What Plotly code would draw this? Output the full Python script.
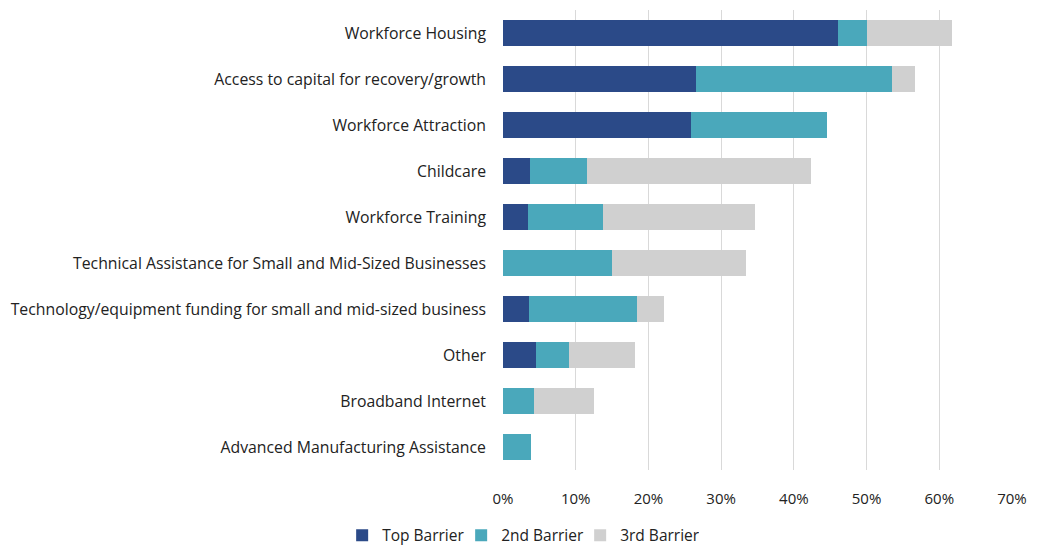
import plotly.graph_objects as go

categories = [
    "Workforce Housing",
    "Access to capital for recovery/growth",
    "Workforce Attraction",
    "Childcare",
    "Workforce Training",
    "Technical Assistance for Small and Mid-Sized Businesses",
    "Technology/equipment funding for small and mid-sized business",
    "Other",
    "Broadband Internet",
    "Advanced Manufacturing Assistance",
]
top_barrier = [0.461, 0.266, 0.259, 0.037, 0.034, 0.0, 0.036, 0.045, 0.0, 0.0]
second_barrier = [0.040, 0.269, 0.186, 0.078, 0.104, 0.150, 0.148, 0.046, 0.042, 0.038]
third_barrier = [0.116, 0.032, 0.0, 0.309, 0.208, 0.184, 0.038, 0.091, 0.083, 0.0]

series = [
    ("Top Barrier", top_barrier, "#2B4A88"),
    ("2nd Barrier", second_barrier, "#4AA8BB"),
    ("3rd Barrier", third_barrier, "#D0D0D0"),
]

fig = go.Figure()
for name, vals, color in series:
    fig.add_trace(go.Bar(
        y=categories, x=vals, name=name, orientation="h",
        marker=dict(color=color, line=dict(width=0)),
    ))

fig.update_layout(
    barmode="stack",
    bargap=0.42,
    width=1038, height=546,
    margin=dict(l=503, r=26, t=10, b=76, autoexpand=False),
    paper_bgcolor="white", plot_bgcolor="white",
    font=dict(family="Open Sans", size=15, color="#222222"),
    showlegend=True,
    legend=dict(
        orientation="h", x=-0.316, xanchor="left", y=-0.143, yanchor="middle",
        font=dict(size=15.5, color="#222222"), traceorder="normal",
        itemwidth=30, entrywidth=74, entrywidthmode="pixels",
    ),
    xaxis=dict(
        range=[0, 0.7], tickformat=".0%", dtick=0.1,
        showgrid=True, gridcolor="#D9D9D9", gridwidth=1,
        zeroline=False, showline=False,
        ticks="outside", ticklen=15, tickcolor="rgba(0,0,0,0)",
        tickfont=dict(size=15),
    ),
    yaxis=dict(
        categoryorder="array", categoryarray=categories, autorange="reversed",
        showgrid=False, zeroline=False, showline=False,
        ticks="", ticklabelstandoff=16,
        tickfont=dict(size=15.8),
    ),
)

fig.write_html("out.html")
